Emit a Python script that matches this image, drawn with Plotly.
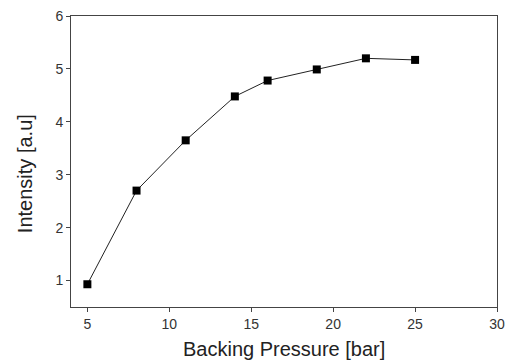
import plotly.graph_objects as go

pressure = [5, 8, 11, 14, 16, 19, 22, 25]
intensity = [0.93, 2.70, 3.65, 4.48, 4.78, 4.99, 5.20, 5.17]
x_ticks = [5, 10, 15, 20, 25, 30]
y_ticks = [1, 2, 3, 4, 5, 6]
x_title = "Backing Pressure [bar]"
y_title = "Intensity [a.u]"

fig = go.Figure(go.Scatter(
    x=pressure, y=intensity, mode="lines+markers",
    line=dict(color="#222", width=1),
    marker=dict(symbol="square", size=8, color="black"),
    cliponaxis=False,
))

font_family = "Liberation Sans, Arial"
axis_common = dict(
    showgrid=False, zeroline=False, showline=True, linecolor="#444", linewidth=1,
    mirror=True, ticks="outside", ticklen=4, tickcolor="#444", automargin=False,
    ticklabeloverflow="allow",
    tickfont=dict(family=font_family, size=14, color="#333"),
    minor=dict(ticks="outside", ticklen=2, tickcolor="#777", nticks=2),
)

fig.update_xaxes(range=[4, 30], tickvals=x_ticks, **axis_common)
fig.update_yaxes(range=[0.5, 6], tickvals=y_ticks, **axis_common)

fig.add_annotation(text=x_title, xref="paper", yref="paper", x=0.5, y=-0.144,
                   xanchor="center", yanchor="middle", showarrow=False,
                   font=dict(family=font_family, size=20, color="#222"))
fig.add_annotation(text=y_title, xref="paper", yref="paper", x=-0.108, y=0.46,
                   xanchor="center", yanchor="middle", showarrow=False, textangle=-90,
                   font=dict(family=font_family, size=20, color="#222"))

fig.update_layout(
    width=506, height=361, showlegend=False,
    margin=dict(l=71, r=9, t=16, b=54),
    plot_bgcolor="white", paper_bgcolor="white",
)
fig.write_html("out.html", config={"displayModeBar": False},
               post_script="document.body.style.margin='0';document.body.style.overflow='hidden';")
